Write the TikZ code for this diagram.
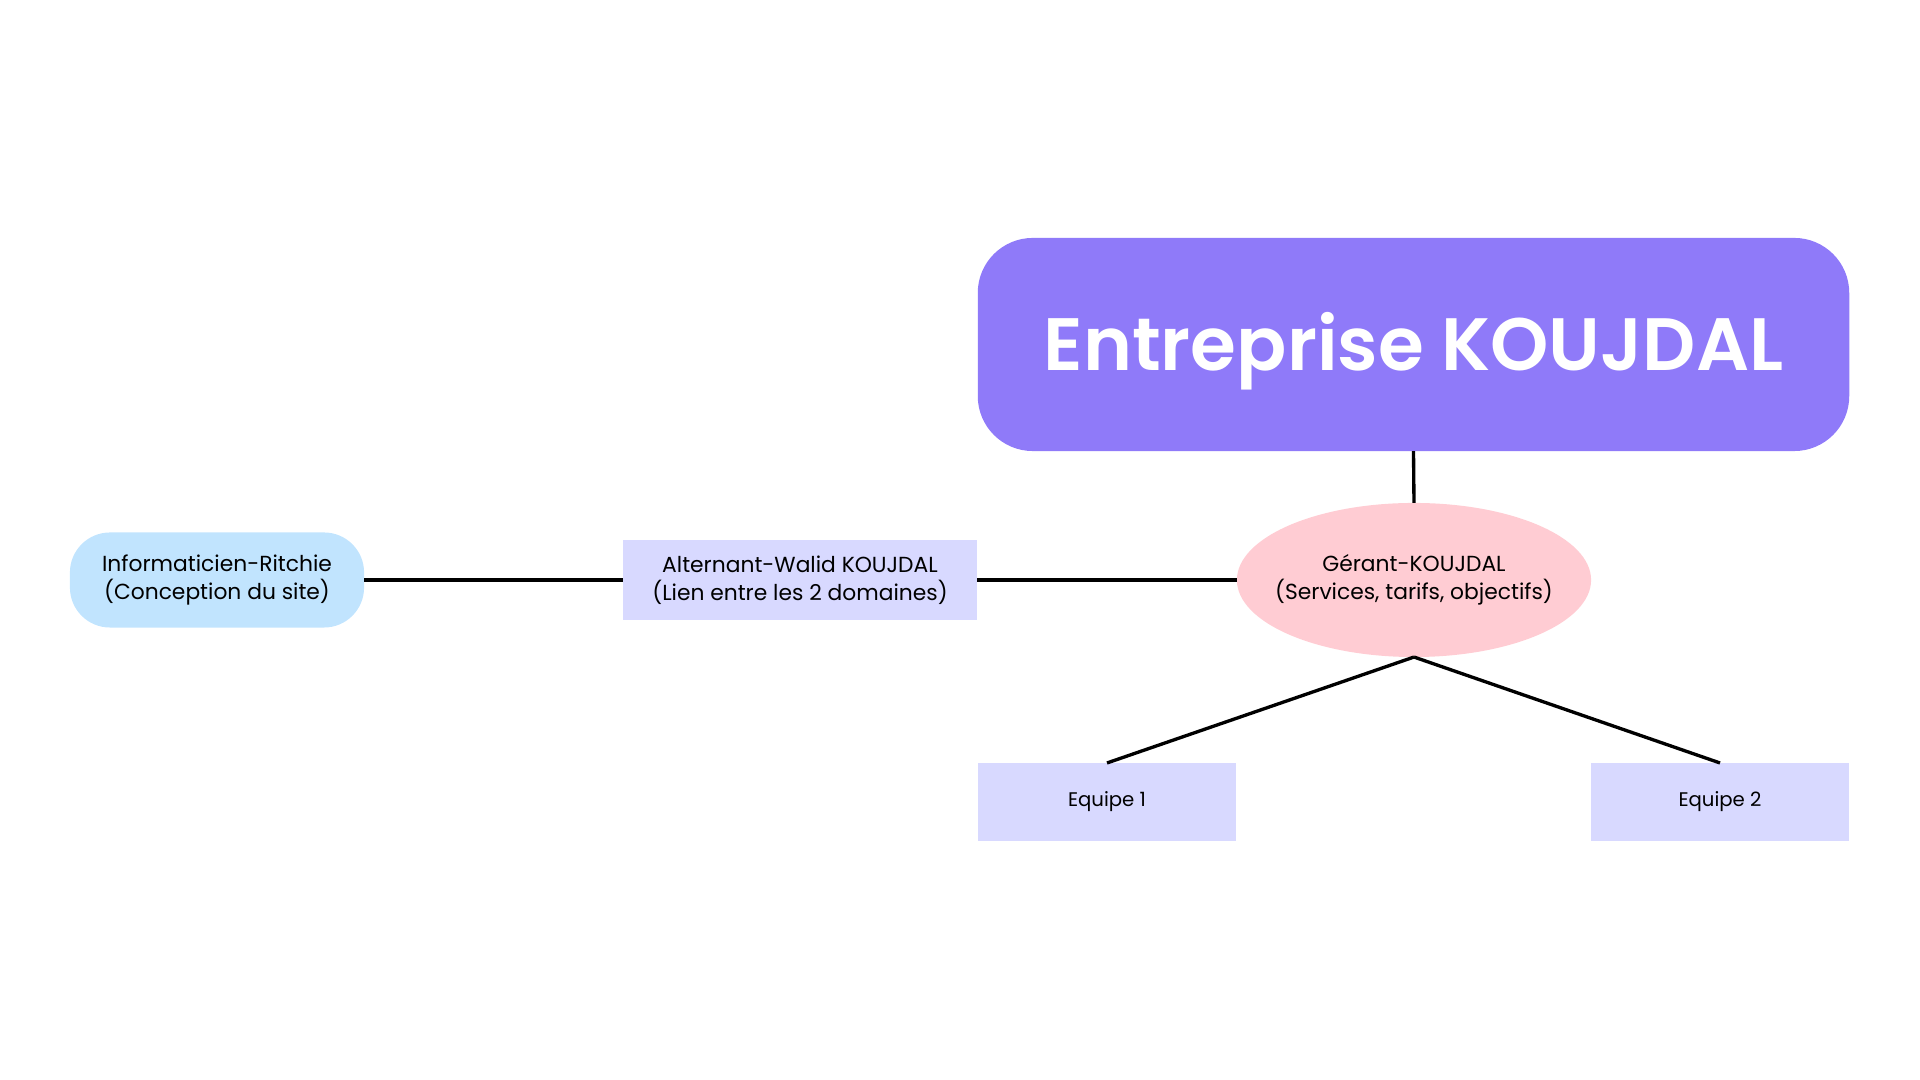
\documentclass[tikz,border=0pt]{standalone}
\usepackage{fontspec}
\setmainfont{Poppins}
\newfontfamily\titlefont{Poppins SemiBold}
\usetikzlibrary{positioning,shapes.geometric}

\definecolor{titleviolet}{RGB}{143,122,249}
\definecolor{gerantpink}{RGB}{255,204,211}
\definecolor{boxlilac}{RGB}{216,217,255}
\definecolor{infoblue}{RGB}{193,228,254}

\begin{document}
\begin{tikzpicture}[x=0.01cm, y=-0.01cm,
TitleStyle/.style={fill=titleviolet, rounded corners=0.55cm, text=white,
                minimum width=8.71cm, minimum height=2.13cm, outer sep=0pt,
                text depth=0.07cm, font=\titlefont\fontsize{21.1}{24}\selectfont},
GerantStyle/.style={ellipse, fill=gerantpink, minimum width=3.54cm,
                minimum height=1.54cm, inner xsep=-0.16cm, inner ysep=0pt,
                outer sep=0pt, align=center, font=\fontsize{6.2}{8}\selectfont},
BoxStyle/.style={fill=boxlilac, minimum width=3.54cm, minimum height=0.8cm,
                outer sep=0pt, align=center, font=\fontsize{6.2}{8}\selectfont},
InfoStyle/.style={fill=infoblue, rounded corners=0.4cm, minimum width=2.94cm,
                minimum height=0.95cm, outer sep=0pt, align=center,
                font=\fontsize{6.2}{8}\selectfont},
TeamStyle/.style={fill=boxlilac, minimum width=2.58cm, minimum height=0.78cm,
                outer sep=0pt, font=\fontsize{5.6}{7}\selectfont},
LinkStyle/.style={line width=0.95pt, black}]
\useasboundingbox (0,0) rectangle (1920,1080);
% nodes
\node [TitleStyle] (title) at (1413.5,344.5) {Entreprise KOUJDAL};
\node [GerantStyle] (gerant) at (1414,580) {Gérant-KOUJDAL\\(Services, tarifs, objectifs)};
\node [BoxStyle] (alternant) at (800,580) {Alternant-Walid KOUJDAL\\(Lien entre les 2 domaines)};
\node [InfoStyle] (info) at (217,580) {Informaticien-Ritchie\\(Conception du site)};
\node [TeamStyle] (eq1) at (1107,802) {Equipe 1};
\node [TeamStyle] (eq2) at (1720,802) {Equipe 2};
% links
\draw [LinkStyle] (title.south) -- (gerant.north);
\draw [LinkStyle] (gerant.south) -- (eq1.north);
\draw [LinkStyle] (gerant.south) -- (eq2.north);
\draw [LinkStyle] (gerant.west) -- (alternant.east);
\draw [LinkStyle] (alternant.west) -- (info.east);
\end{tikzpicture}
\end{document}
